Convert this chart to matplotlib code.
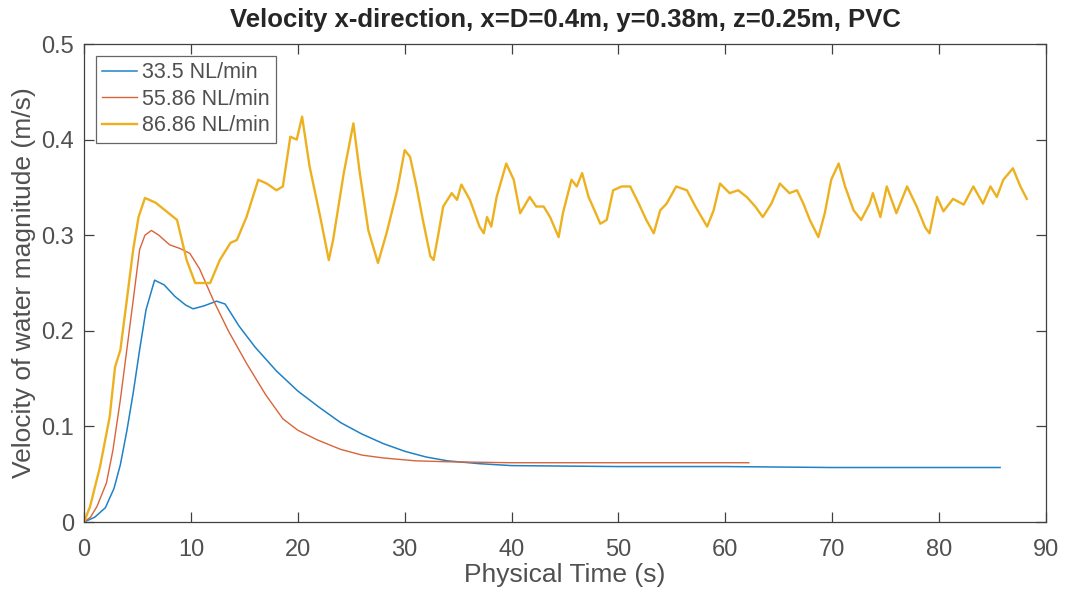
import matplotlib
matplotlib.use("Agg")
from matplotlib import pyplot as plt

# values
t_335 = [0, 1.0, 2.0, 2.8, 3.4, 4.0, 4.6, 5.2, 5.8, 6.6, 7.5, 8.5, 9.5, 10.2, 11.2,
         12.4, 13.2, 14.5, 16.0, 18.0, 20.0, 22.0, 24.0, 26.0, 28.0, 30.0, 32.0,
         34.0, 37.0, 40.0, 50.0, 60.0, 70.0, 85.7]
v_335 = [0, 0.005, 0.015, 0.035, 0.06, 0.095, 0.135, 0.18, 0.222, 0.253, 0.248,
         0.236, 0.227, 0.223, 0.226, 0.231, 0.228, 0.205, 0.183, 0.158, 0.137,
         0.12, 0.104, 0.092, 0.082, 0.074, 0.068, 0.064, 0.061, 0.059, 0.058,
         0.058, 0.057, 0.057]

t_5586 = [0, 0.6, 1.2, 2.1, 2.7, 3.4, 4.0, 4.6, 5.2, 5.7, 6.3, 7.0, 8.0, 9.0, 9.9,
          10.8, 12.1, 13.5, 15.2, 17.0, 18.6, 20.0, 21.8, 24.0, 26.0, 28.0, 31.0,
          34.0, 40.0, 50.0, 62.2]
v_5586 = [0, 0.005, 0.016, 0.041, 0.075, 0.128, 0.18, 0.232, 0.285, 0.3, 0.305,
          0.3, 0.29, 0.286, 0.281, 0.265, 0.232, 0.2, 0.166, 0.133, 0.108, 0.096,
          0.086, 0.076, 0.07, 0.067, 0.064, 0.063, 0.062, 0.062, 0.062]

t_8686 = [0, 0.56, 1.5, 2.4, 2.9, 3.4, 4.0, 4.6, 5.1, 5.7, 6.7, 7.7, 8.7, 9.6, 10.4,
          11.2, 11.8, 12.7, 13.7, 14.3, 15.2, 16.3, 17.1, 18.0, 18.6, 19.3, 19.9,
          20.4, 21.1, 22.1, 22.9, 23.3, 24.3, 25.2, 25.8, 26.6, 27.5, 28.3, 29.3,
          30.0, 30.5, 31.1, 31.7, 32.4, 32.7, 33.1, 33.6, 34.4, 34.9, 35.3, 36.1,
          37.0, 37.4, 37.7, 38.1, 38.6, 39.5, 40.2, 40.8, 41.7, 42.3, 43.0, 43.6,
          44.4, 44.8, 45.6, 46.1, 46.6, 47.2, 47.6, 48.3, 48.9, 49.5, 50.3, 51.1,
          51.9, 52.6, 53.3, 53.9, 54.5, 55.4, 56.4, 57.2, 58.3, 58.9, 59.5, 60.4,
          61.2, 62.0, 62.8, 63.5, 64.3, 65.1, 66.0, 66.7, 67.3, 67.9, 68.7, 69.3,
          69.9, 70.6, 71.2, 72.0, 72.7, 73.5, 73.8, 74.5, 75.1, 76.0, 77.0, 77.9,
          78.7, 79.1, 79.8, 80.4, 81.3, 82.3, 83.2, 84.1, 84.8, 85.4, 86.0, 86.9,
          87.6, 88.2]
v_8686 = [0, 0.016, 0.058, 0.110, 0.162, 0.18, 0.232, 0.285, 0.319, 0.339, 0.334,
          0.325, 0.316, 0.274, 0.250, 0.250, 0.250, 0.274, 0.292, 0.295, 0.319,
          0.358, 0.354, 0.347, 0.351, 0.403, 0.400, 0.424, 0.372, 0.319, 0.274,
          0.295, 0.365, 0.417, 0.365, 0.305, 0.271, 0.302, 0.347, 0.389, 0.382,
          0.351, 0.316, 0.278, 0.274, 0.298, 0.330, 0.344, 0.337, 0.353, 0.337,
          0.309, 0.302, 0.319, 0.309, 0.340, 0.375, 0.358, 0.323, 0.340, 0.330,
          0.330, 0.319, 0.298, 0.323, 0.358, 0.351, 0.365, 0.340, 0.330, 0.312,
          0.316, 0.347, 0.351, 0.351, 0.333, 0.316, 0.302, 0.326, 0.333, 0.351,
          0.347, 0.330, 0.309, 0.326, 0.354, 0.344, 0.347, 0.340, 0.330, 0.319,
          0.333, 0.354, 0.344, 0.347, 0.333, 0.316, 0.298, 0.323, 0.358, 0.375,
          0.351, 0.326, 0.316, 0.333, 0.344, 0.319, 0.351, 0.323, 0.351, 0.330,
          0.308, 0.302, 0.340, 0.325, 0.338, 0.332, 0.351, 0.333, 0.351, 0.340,
          0.358, 0.370, 0.351, 0.338]

series = [
    (t_335, v_335, '33.5 NL/min', '#1f82c6', 1.1),
    (t_5586, v_5586, '55.86 NL/min', '#d9643a', 1.0),
    (t_8686, v_8686, '86.86 NL/min', '#EDB120', 1.7),
]

plt.rcParams.update({
    "font.family": ["Liberation Sans", "DejaVu Sans"],
    "font.size": 16,
})

fig = plt.figure(figsize=(10.65, 5.94), dpi=100)
ax = fig.add_axes([0.0789, 0.1212, 0.9033, 0.8047])

for t, v, label, color, lw in series:
    ax.plot(t, v, color=color, linewidth=lw, label=label)

ax.set_xlim(0, 90)
ax.set_ylim(0, 0.5)
ax.set_xticks(range(0, 91, 10))
ax.set_yticks([0, 0.1, 0.2, 0.3, 0.4, 0.5])
ax.set_yticklabels(['0', '0.1', '0.2', '0.3', '0.4', '0.5'])
ax.tick_params(direction='in', length=7, width=0.9, top=True, right=True,
               labelsize=17, colors='#404040', labelcolor='#505050')
ax.tick_params(axis='x', pad=12)
ax.tick_params(axis='y', pad=7)
for s in ax.spines.values():
    s.set_color('#404040')
    s.set_linewidth(0.9)

ax.set_xlabel('Physical Time (s)', fontsize=19, color='#505050', labelpad=2)
ax.set_ylabel('Velocity of water magnitude (m/s)', fontsize=19, color='#505050', labelpad=4)
ax.set_title('Velocity x-direction, x=D=0.4m, y=0.38m, z=0.25m, PVC',
             fontsize=18.5, fontweight='bold', color='#262626', pad=12)

leg = ax.legend(loc='upper left', fontsize=15.5, frameon=True, fancybox=False,
                handlelength=1.6, handletextpad=0.25, borderpad=0.3,
                labelspacing=0.25, borderaxespad=0.55)
leg.get_frame().set_edgecolor('#404040')
leg.get_frame().set_linewidth(0.9)
for txt in leg.get_texts():
    txt.set_color('#505050')

plt.savefig('out.png', dpi=100)
plt.close()
